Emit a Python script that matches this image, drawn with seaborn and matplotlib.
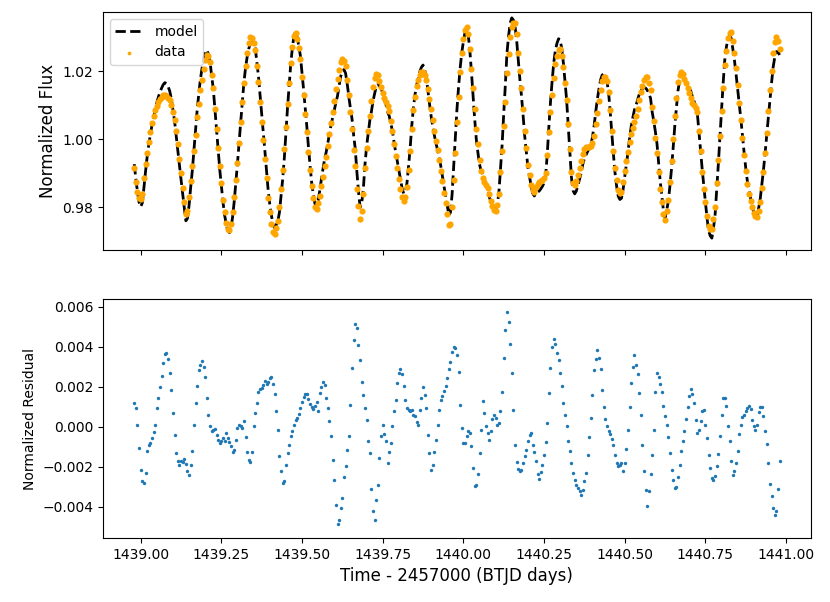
import numpy as np
import pandas as pd
import matplotlib
matplotlib.use('Agg')
import matplotlib.pyplot as plt
import seaborn as sns

#======Light curve samples======
t_start = 1438.98   # BTJD of first sample
cadence = 0.005     # days between samples

# normalized flux of the data points
flux = [
    0.9915, 0.9875, 0.9845, 0.9826, 0.9823, 0.9840, 0.9885, 0.9928, 0.9960, 0.9992,
    1.0022, 1.0047, 1.0068, 1.0085, 1.0099, 1.0110, 1.0119, 1.0125, 1.0129, 1.0130,
    1.0127, 1.0121, 1.0115, 1.0100, 1.0080, 1.0058, 1.0025, 0.9985, 0.9943, 0.9900,
    0.9858, 0.9816, 0.9779, 0.9790, 0.9830, 0.9878, 0.9920, 0.9966, 1.0012, 1.0065,
    1.0104, 1.0145, 1.0175, 1.0206, 1.0232, 1.0248, 1.0244, 1.0228, 1.0188, 1.0150,
    1.0090, 1.0030, 0.9975, 0.9920, 0.9870, 0.9822, 0.9785, 0.9755, 0.9737, 0.9733,
    0.9750, 0.9785, 0.9830, 0.9880, 0.9930, 0.9990, 1.0050, 1.0110, 1.0165, 1.0215,
    1.0255, 1.0283, 1.0300, 1.0298, 1.0283, 1.0262, 1.0215, 1.0168, 1.0110, 1.0052,
    0.9998, 0.9942, 0.9885, 0.9828, 0.9785, 0.9752, 0.9728, 0.9723, 0.9740, 0.9760,
    0.9800, 0.9855, 0.9910, 0.9970, 1.0035, 1.0105, 1.0165, 1.0225, 1.0270, 1.0303,
    1.0313, 1.0295, 1.0268, 1.0235, 1.0183, 1.0130, 1.0075, 1.0020, 0.9962, 0.9910,
    0.9862, 0.9828, 0.9800, 0.9795, 0.9812, 0.9832, 0.9862, 0.9890, 0.9920, 0.9948,
    0.9980, 1.0015, 1.0047, 1.0080, 1.0112, 1.0147, 1.0176, 1.0205, 1.0226, 1.0235,
    1.0230, 1.0214, 1.0175, 1.0130, 1.0080, 1.0030, 0.9968, 0.9920, 0.9855, 0.9805,
    0.9766, 0.9790, 0.9838, 0.9915, 0.9975, 1.0025, 1.0068, 1.0112, 1.0155, 1.0180,
    1.0192, 1.0190, 1.0172, 1.0155, 1.0135, 1.0120, 1.0110, 1.0099, 1.0082, 1.0055,
    1.0025, 0.9985, 0.9950, 0.9915, 0.9882, 0.9853, 0.9830, 0.9820, 0.9830, 0.9860,
    0.9910, 0.9965, 1.0030, 1.0085, 1.0125, 1.0157, 1.0175, 1.0190, 1.0197, 1.0198,
    1.0188, 1.0174, 1.0148, 1.0118, 1.0090, 1.0058, 1.0025, 0.9995, 0.9968, 0.9938,
    0.9908, 0.9876, 0.9843, 0.9812, 0.9780, 0.9748, 0.9752, 0.9800, 0.9880, 0.9960,
    1.0050, 1.0125, 1.0198, 1.0255, 1.0295, 1.0322, 1.0330, 1.0310, 1.0265, 1.0208,
    1.0150, 1.0090, 1.0030, 0.9985, 0.9940, 0.9908, 0.9885, 0.9873, 0.9866, 0.9858,
    0.9838, 0.9820, 0.9805, 0.9792, 0.9790, 0.9808, 0.9840, 0.9905, 0.9965, 1.0040,
    1.0110, 1.0195, 1.0250, 1.0300, 1.0330, 1.0342, 1.0342, 1.0310, 1.0255, 1.0200,
    1.0150, 1.0090, 1.0025, 0.9975, 0.9925, 0.9895, 0.9866, 0.9850, 0.9846, 0.9860,
    0.9868, 0.9874, 0.9877, 0.9881, 0.9886, 0.9900, 0.9955, 1.0020, 1.0080, 1.0130,
    1.0180, 1.0220, 1.0245, 1.0262, 1.0265, 1.0245, 1.0212, 1.0165, 1.0115, 1.0045,
    0.9970, 0.9905, 0.9872, 0.9866, 0.9877, 0.9895, 0.9915, 0.9935, 0.9958, 0.9970,
    0.9977, 0.9978, 0.9978, 0.9979, 0.9990, 1.0010, 1.0045, 1.0078, 1.0112, 1.0145,
    1.0170, 1.0182, 1.0184, 1.0170, 1.0140, 1.0085, 1.0025, 0.9965, 0.9915, 0.9880,
    0.9852, 0.9842, 0.9845, 0.9875, 0.9908, 0.9935, 0.9962, 0.9992, 1.0015, 1.0033,
    1.0050, 1.0068, 1.0090, 1.0115, 1.0138, 1.0158, 1.0174, 1.0182, 1.0184, 1.0165,
    1.0145, 1.0095, 1.0055, 1.0005, 0.9960, 0.9905, 0.9855, 0.9815, 0.9780, 0.9764,
    0.9790, 0.9822, 0.9875, 0.9935, 1.0000, 1.0068, 1.0120, 1.0168, 1.0190, 1.0198,
    1.0192, 1.0178, 1.0165, 1.0150, 1.0135, 1.0122, 1.0108, 1.0100, 1.0093, 1.0080,
    1.0025, 0.9965, 0.9905, 0.9855, 0.9815, 0.9775, 0.9745, 0.9737, 0.9735, 0.9765,
    0.9802, 0.9870, 0.9939, 1.0010, 1.0082, 1.0150, 1.0218, 1.0260, 1.0297, 1.0312,
    1.0314, 1.0290, 1.0255, 1.0210, 1.0160, 1.0108, 1.0058, 1.0005, 0.9955, 0.9908,
    0.9868, 0.9840, 0.9818, 0.9800, 0.9784, 0.9775, 0.9771, 0.9790, 0.9815, 0.9858,
    0.9905, 0.9960, 1.0018, 1.0082, 1.0145, 1.0200, 1.0253, 1.0285, 1.0300, 1.0288,
    1.0265,
]

# residual (model - data) in ppm
residual_ppm = [
    1180, 940, 100, -1070, -2150, -2730, -2810, -2320, -1230, -900,
    -830, -570, -270, 70, 940, 1440, 2020, 2570, 3190, 3640,
    3680, 3400, 2690, 1850, 690, -400, -1320, -1730, -1930, -1730,
    -1770, -1600, -1870, -2230, -2400, -1900, -1230, 70, 1190, 2070,
    2850, 3100, 3300, 2990, 2520, 1440, 600, 20, -230, -150,
    -100, -430, -650, -820, -700, -570, -730, -320, -570, -770,
    -980, -1270, -1150, -650, -70, 100, 40, -70, 270, -530,
    -1270, -1650, -1780, -1270, 20, 690, 1190, 1740, 1900, 1970,
    2100, 2300, 2140, 2270, 2440, 2520, 2140, 1640, 770, -150,
    -1480, -2230, -2810, -2730, -1900, -1320, -900, -480, -200, 100,
    350, 430, 640, 970, 1270, 1490, 1640, 1650, 1390, 1140,
    990, 890, 1070, 1270, 770, 1690, 2020, 2270, 2100, 1470,
    940, 270, -480, -1650, -2650, -3900, -4870, -4650, -4060, -3560,
    -2500, -1980, -1150, -480, 1100, 2940, 4350, 5170, 4940, 4100,
    3350, 2240, 1600, 940, 350, -730, -1320, -3100, -4230, -4650,
    -3650, -2900, -1570, -480, 70, -370, -700, -1820, -1270, -820,
    20, 770, 1350, 2190, 2690, 2900, 2640, 2070, 1350, 970,
    850, 800, 850, 600, 520, 240, 100, 850, 1470, 2020,
    1600, 940, -400, -1320, -2150, -1900, -1270, -650, 100, 850,
    1350, 1570, 1800, 2070, 2440, 2900, 3270, 3740, 4020, 3940,
    3600, 2770, 1100, -70, -820, -820, -480, -200, -320, -980,
    -2070, -2980, -2900, -2370, -1320, -150, 1300, 690, 50, -320,
    -650, -230, 400, 570, 440, 70, 190, 770, 1770, 3440,
    4850, 5740, 5270, 4140, 2690, 850, -900, -1770, -2100, -2230,
    -2150, -1820, -1480, -1150, -700, -430, -320, -900, -1280, -1730,
    -2370, -2600, -2270, -1930, -1400, -770, 190, 1690, 2940, 4020,
    4400, 4140, 3690, 3350, 2690, 2070, 1190, 570, 20, -700,
    -1230, -1820, -2320, -2650, -2900, -3070, -3230, -3430, -3150, -2730,
    -2320, -1400, -530, 440, 1600, 2850, 3400, 3850, 3470, 2900,
    1850, 1020, 400, 20, -230, -370, -600, -900, -1400, -1820,
    -1980, -1900, -1830, -2230, -1820, -1100, -150, 1020, 2190, 3020,
    3600, 3100, 2640, 1690, 570, -900, -2230, -3150, -3980, -3230,
    -2370, -1430, -150, 1740, 2690, 2490, 2140, 1770, 1070, 520,
    70, -530, -1320, -2150, -2680, -3070, -3020, -2530, -1900, -1200,
    -730, -200, 390, 1020, 1570, 1900, 1650, 1190, 350, -320,
    -150, 300, 770, 850, 100, -570, -1400, -2070, -2570, -2650,
    -2480, -1950, -1370, -480, 600, 1440, 1440, 1070, 20, -700,
    -1700, -2400, -2230, -1820, -1230, -370, 70, 470, 600, 800,
    940, 1050, 900, 350, 20, -150, 100, 720, 1020, 1020,
    520, -200, -870, -1820, -2870, -3480, -4070, -4400, -4230, -3100,
    -1730,
]

time = t_start + cadence * np.arange(len(flux))
residual = np.array(residual_ppm) / 1e6
model = np.array(flux) + residual

lc = pd.DataFrame({'time': time, 'flux': flux, 'model': model, 'residual': residual})

#======Plot======
fig = plt.figure(figsize=(8.3, 6.02), dpi=100)
ax_top = fig.add_axes([0.124, 0.585, 0.853, 0.395])
ax_bot = fig.add_axes([0.124, 0.106, 0.853, 0.397], sharex=ax_top)

sns.lineplot(data=lc, x='time', y='model', ax=ax_top, color='black',
             linestyle='--', linewidth=2, label='model', sort=False)
sns.scatterplot(data=lc, x='time', y='flux', ax=ax_top, color='orange',
                s=20, linewidth=0, label='data', zorder=3)
ax_top.set_ylim(0.9675, 1.0374)
ax_top.set_yticks([0.98, 1.00, 1.02])
ax_top.set_ylabel('Normalized Flux', fontsize=12)
ax_top.set_xlabel('')
ax_top.tick_params(labelbottom=False)
ax_top.legend(loc='upper left', fontsize=10, markerscale=0.6)

sns.scatterplot(data=lc, x='time', y='residual', ax=ax_bot, color='#1f77b4',
                s=6, linewidth=0)
ax_bot.set_xlim(1438.883, 1441.077)
ax_bot.set_ylim(-0.00557, 0.00639)
ax_bot.set_xticks([1439.0, 1439.25, 1439.5, 1439.75, 1440.0, 1440.25, 1440.5, 1440.75, 1441.0])
ax_bot.set_yticks([-0.004, -0.002, 0.0, 0.002, 0.004, 0.006])
ax_bot.set_ylabel('Normalized Residual', fontsize=10)
ax_bot.set_xlabel('Time - 2457000 (BTJD days)', fontsize=12)

fig.savefig('out.png', dpi=100)
